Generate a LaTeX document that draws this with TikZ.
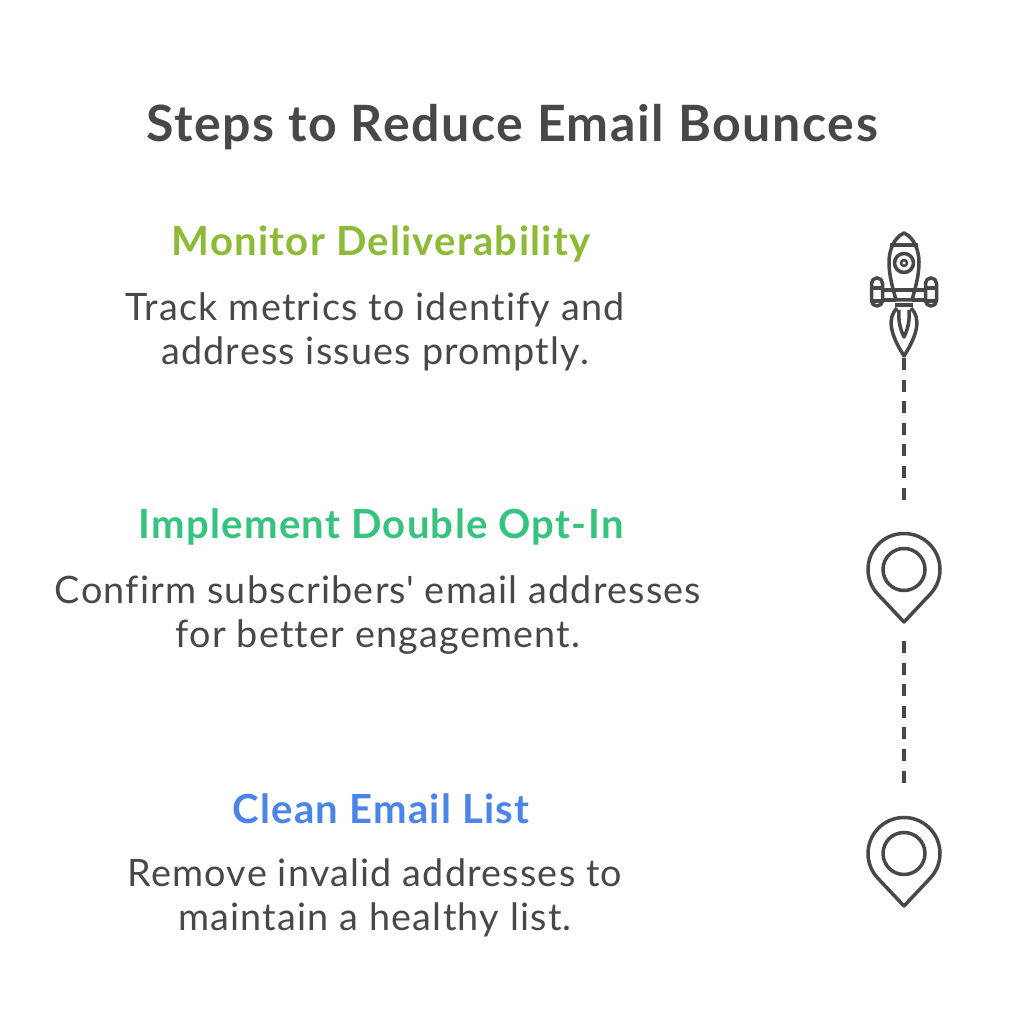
\documentclass[tikz,border=0pt]{standalone}
\usepackage{fontspec}
\setmainfont{Lato}[LetterSpace=3.2,Ligatures=NoCommon]
\definecolor{inkgray}{HTML}{484848}
\definecolor{stepgreen}{HTML}{8DBB35}
\definecolor{stepteal}{HTML}{36C37F}
\definecolor{stepblue}{HTML}{4A86E8}
\tikzset{
  titletext/.style={text=inkgray,font=\fontsize{28.5}{34}\selectfont\bfseries},
  headtext/.style={font=\fontsize{22.8}{28}\selectfont\bfseries},
  bodytext/.style={text=inkgray,align=center,font=\fontsize{21.5}{25.3}\selectfont},
  iconline/.style={draw=inkgray,line width=2pt,line join=round},
  dashline/.style={draw=inkgray,line width=2pt,dash pattern=on 6.8pt off 5.5pt},
}
\begin{document}
\begin{tikzpicture}[x=0.02cm,y=0.02cm]
  \useasboundingbox (0,0) rectangle (1013,1024);
  \fill[white] (0,0) rectangle (1013,1024);
  \node[titletext] (title) at (512,897) {Steps to Reduce Email Bounces};
  % text blocks
  \node[headtext,text=stepgreen] (headone) at (381,780) {Monitor Deliverability};
  \node[bodytext] (bodyone) at (375,692) {Track metrics to identify and\\address issues promptly.};
  \node[headtext,text=stepteal] (headtwo) at (381,497) {Implement Double Opt-In};
  \node[bodytext] (bodytwo) at (378,409) {Confirm subscribers\textquotesingle{} email addresses\\for better engagement.};
  \node[headtext,text=stepblue] (headthree) at (381,215) {Clean Email List};
  \node[bodytext] (bodythree) at (375,126) {Remove invalid addresses to\\maintain a healthy list.};
  % pins
  \foreach \name/\cy in {pintwo/454.5,pinthree/170.5} {
    \draw[iconline] (904,\cy) ++(-43.3:36) arc (-43.3:223.3:36) -- (904,\cy-52.5) -- cycle;
    \node[circle,iconline,minimum size=0.84cm,inner sep=0pt] (\name) at (904,\cy) {};
    \coordinate (\name top) at (904,\cy+69);
    \coordinate (\name bottom) at (904,\cy-71.5);
  }
  % rocket
  \draw[iconline] (904,791) .. controls (893,786) and (889,772) .. (889,762)
    .. controls (889,748) and (893,735) .. (896,724) -- (912,724)
    .. controls (915,735) and (919,748) .. (919,762)
    .. controls (919,772) and (915,786) .. (904,791) -- cycle;
  \draw[iconline] (890,779) -- (918,779);
  \draw[iconline] (895,719) -- (913,719);
  \draw[iconline] (892,734) -- (916,734);
  \node[circle,iconline,minimum size=0.38cm,inner sep=0pt] (rocket) at (904,761) {};
  \node[circle,iconline,line width=1.5pt,minimum size=0.12cm,inner sep=0pt] at (904,761) {};
  \draw[iconline,rounded corners=3pt] (871.5,718) rectangle (882.5,746);
  \draw[iconline,rounded corners=3pt] (925.5,718) rectangle (936.5,746);
  \draw[iconline] (871.5,736) -- (882.5,736) (871.5,723) -- (882.5,723);
  \draw[iconline] (925.5,736) -- (936.5,736) (925.5,723) -- (936.5,723);
  \draw[iconline] (882.5,734) -- (892,734) (916,734) -- (925.5,734);
  \draw[iconline] (882.5,724) -- (896,724) (912,724) -- (925.5,724);
  \draw[iconline] (897,716) .. controls (887,706) and (890,690) .. (904,668)
    .. controls (918,690) and (921,706) .. (911,716);
  \draw[iconline] (899,714) .. controls (898,705) and (900,695) .. (904,687)
    .. controls (908,695) and (910,705) .. (909,714);
  \coordinate (rocketend) at (904,666);
  % connectors
  \draw[dashline] (rocketend) -- (pintwotop);
  \draw[dashline] (pintwobottom) -- (pinthreetop);
\end{tikzpicture}
\end{document}
